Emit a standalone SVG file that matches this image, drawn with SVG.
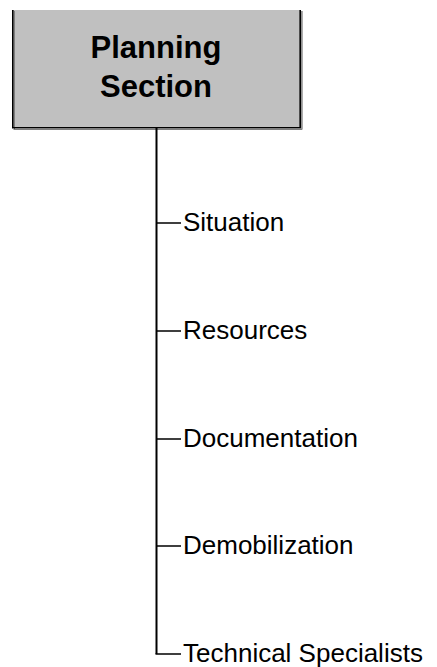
<svg xmlns="http://www.w3.org/2000/svg" width="437" height="667" viewBox="0 0 437 667">
<style>
.title{font-family:"Liberation Sans",Arial,sans-serif;font-weight:bold;font-size:31px;fill:#000;text-anchor:middle}
.lbl{font-family:"Liberation Sans",Arial,sans-serif;font-size:26px;fill:#000}
.br{stroke:#000;stroke-width:1.3;fill:none}
</style>
<rect width="437" height="667" fill="#fff"/>
<g id="planning-section">
<rect x="12" y="10" width="289" height="118" fill="#c0c0c0"/>
<path d="M13.5,10 V128.5 M300.8,10 V128.5" stroke="#7f7f7f" stroke-width="1" fill="none" transform="translate(1,1)"/>
<path d="M302,11 V129.5 H13.5" stroke="#808080" stroke-width="1" fill="none"/>
<path d="M12.8,10 V127.8 H300.2 V10" stroke="#000" stroke-width="1.6" fill="none"/>
<text class="title" x="156" y="58">Planning</text>
<text class="title" x="156" y="97">Section</text>
</g>
<g id="connectors">
<path d="M156.5,128 V654" stroke="#000" stroke-width="2" fill="none"/>
<path class="br" d="M156.5,223 H181 M156.5,331 H181 M156.5,439 H181 M156.5,546 H181 M155.5,654 H181"/>
</g>
<g id="situation"><text class="lbl" x="183" y="231">Situation</text></g>
<g id="resources"><text class="lbl" x="183" y="339">Resources</text></g>
<g id="documentation"><text class="lbl" x="183" y="447">Documentation</text></g>
<g id="demobilization"><text class="lbl" x="183" y="554">Demobilization</text></g>
<g id="technical-specialists"><text class="lbl" x="183" y="662">Technical Specialists</text></g>
</svg>
